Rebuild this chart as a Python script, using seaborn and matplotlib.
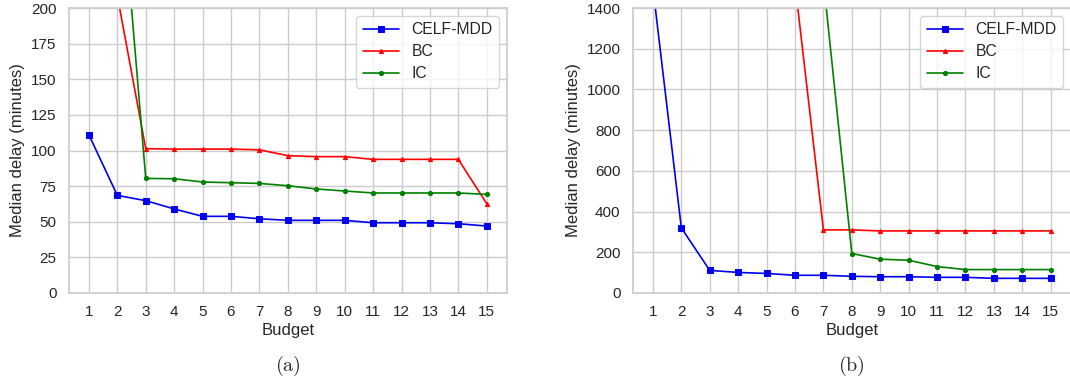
import numpy as np
import pandas as pd
import seaborn as sns
from matplotlib import pyplot as plt

nan = np.nan

budget = list(range(1, 16))

# (a)
celf_a = [111, 68.5, 64.8, 59, 53.8, 53.8, 52.1, 51, 51, 51, 49.3, 49.3, 49.3, 48.6, 47]
bc_a = [nan, 208.6, 101.3, 101, 101, 101, 100.5, 96.4, 95.7, 95.7, 93.8, 93.8, 93.8, 93.8, 62.7]
ic_a = [nan, 319.6, 80.4, 80.2, 77.9, 77.4, 76.9, 75.3, 73, 71.6, 70.2, 70.2, 70.2, 70.2, 69.2]

# (b)
celf_b = [1500, 320, 111, 101, 96, 87, 87, 82, 80, 80, 77, 77, 72, 72, 72]
bc_b = [nan, nan, nan, nan, nan, 1520, 310, 310, 305, 305, 305, 305, 305, 305, 305]
ic_b = [nan, nan, nan, nan, nan, nan, 1536, 194, 166, 161, 130, 115, 115, 115, 115]

names = ['CELF-MDD', 'BC', 'IC']
colors = ['#0000ee', '#ff0000', '#008000']
markers = ['s', '^', 'o']
msizes = [4.5, 3, 3]

sns.set_theme(style='whitegrid')
plt.rcParams['font.family'] = ['Liberation Sans', 'DejaVu Sans']
plt.rcParams['mathtext.fontset'] = 'cm'

fig = plt.figure(figsize=(10.7, 3.83), dpi=100)
ax1 = fig.add_axes([0.0645, 0.235, 0.409, 0.744])
ax2 = fig.add_axes([0.5916, 0.235, 0.409, 0.744])

panels = [
    (ax1, [celf_a, bc_a, ic_a], 200, np.arange(0, 201, 25), r'$\mathrm{(a)}$'),
    (ax2, [celf_b, bc_b, ic_b], 1400, np.arange(0, 1401, 200), r'$\mathrm{(b)}$'),
]

for ax, series, ymax, yticks, cap in panels:
    for vals, name, c, m, ms in zip(series, names, colors, markers, msizes):
        df = pd.DataFrame({'Budget': budget, 'delay': vals}).dropna()
        sns.lineplot(data=df, x='Budget', y='delay', color=c, marker=m,
                     markersize=ms, markeredgecolor=c, linewidth=1.2,
                     label=name, ax=ax)
    ax.set_xlim(0.3, 15.7)
    ax.set_ylim(0, ymax)
    ax.set_xticks(budget)
    ax.set_yticks(yticks)
    ax.tick_params(labelsize=11, pad=3)
    ax.set_xlabel('Budget', fontsize=12, labelpad=2.5)
    ax.set_ylabel('Median delay (minutes)', fontsize=12, labelpad=4)
    ax.legend(loc='upper right', fontsize=11.3, handlelength=2.3,
              borderaxespad=0.5, labelspacing=0.45)
    pos = ax.get_position()
    fig.text((pos.x0 + pos.x1) / 2, 0.045, cap, ha='center', va='center', fontsize=14.5)

plt.savefig('out.png', dpi=100)
